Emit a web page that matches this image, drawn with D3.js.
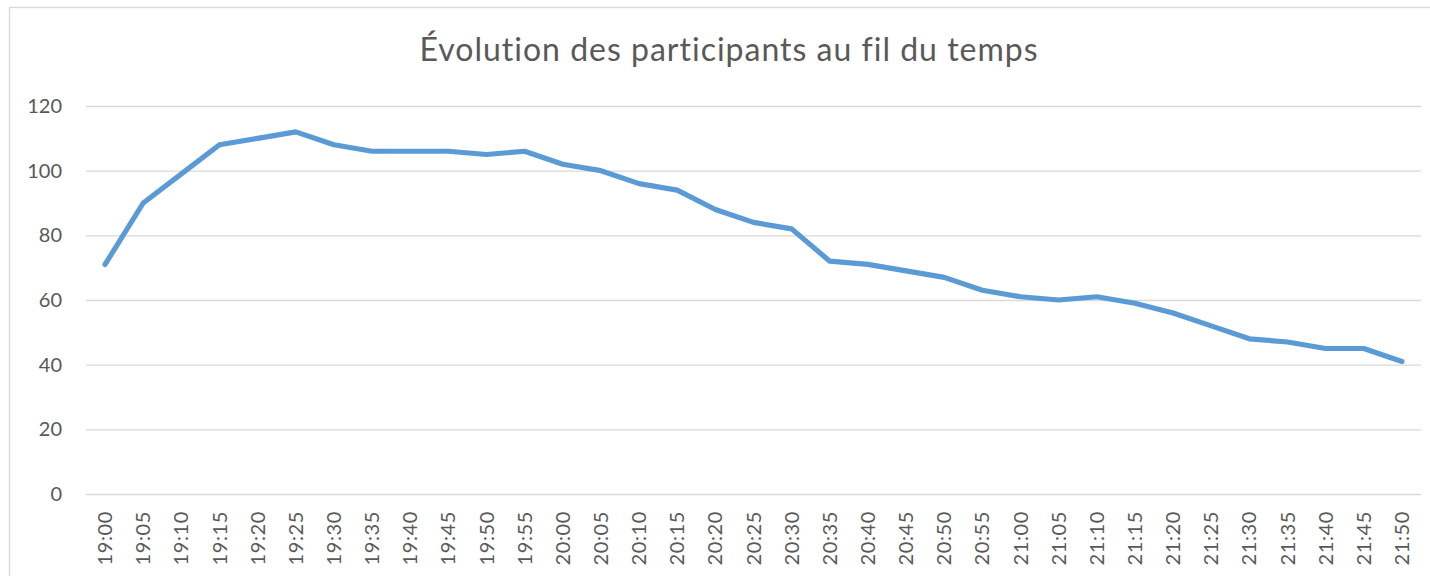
<!DOCTYPE html>
<html>
<head>
<meta charset="utf-8">
<script src="https://cdn.jsdelivr.net/npm/d3@7"></script>
<style>
  html, body { margin: 0; padding: 0; background: #ffffff; }
  svg { display: block; }
  text { font-family: Lato, "Open Sans", sans-serif; fill: #595959; }
</style>
</head>
<body>
<svg id="chart" width="1430" height="576"></svg>
<script>
// Participant counts sampled every five minutes
const times = [
  "19:00","19:05","19:10","19:15","19:20","19:25","19:30","19:35","19:40","19:45",
  "19:50","19:55","20:00","20:05","20:10","20:15","20:20","20:25","20:30","20:35",
  "20:40","20:45","20:50","20:55","21:00","21:05","21:10","21:15","21:20","21:25",
  "21:30","21:35","21:40","21:45","21:50"
];
const participants = [
  71, 90, 99, 108, 110, 112, 108, 106, 106, 106,
  105, 106, 102, 100, 96, 94, 88, 84, 82, 72,
  71, 69, 67, 63, 61, 60, 61, 59, 56, 52,
  48, 47, 45, 45, 41
];
const yTicks = [0, 20, 40, 60, 80, 100, 120];
const titleText = "Évolution des participants au fil du temps";

const svg = d3.select("#chart");
const W = 1430, H = 576;
const plot = { left: 86, right: 1421, top: 106, bottom: 494 };

// chart frame
svg.append("rect")
  .attr("x", 9.5).attr("y", 7.5)
  .attr("width", W + 20).attr("height", H + 20)
  .attr("fill", "#ffffff")
  .attr("stroke", "#d9d9d9").attr("stroke-width", 1.3);

const x = d3.scaleBand().domain(times).range([plot.left, plot.right]);
const xc = d => x(d) + x.bandwidth() / 2;
const y = d3.scaleLinear().domain([0, 120]).range([plot.bottom, plot.top]);

// horizontal gridlines + y labels
const yAxis = d3.axisLeft(y)
  .tickValues(yTicks)
  .tickSize(-(plot.right - plot.left))
  .tickPadding(24)
  .tickFormat(d3.format("d"));

const gy = svg.append("g")
  .attr("transform", `translate(${plot.left},0)`)
  .call(yAxis);
gy.select(".domain").remove();
gy.selectAll(".tick line").attr("stroke", "#d9d9d9").attr("stroke-width", 1.3);
gy.selectAll(".tick text")
  .style("font-size", "20px")
  .attr("fill", "#595959");

// category axis labels, rotated
const xAxis = d3.axisBottom(x).tickSize(0).tickPadding(0);
const gx = svg.append("g")
  .attr("transform", `translate(0,${plot.bottom})`)
  .call(xAxis);
gx.select(".domain").remove();
gx.selectAll(".tick text")
  .style("font-size", "20px")
  .style("letter-spacing", "0.6px")
  .attr("fill", "#595959")
  .attr("text-anchor", "end")
  .attr("dy", "0.35em")
  .attr("transform", "translate(0,17) rotate(-90)");

// series line
const line = d3.line()
  .x((d, i) => xc(times[i]))
  .y(d => y(d));

svg.append("path")
  .datum(participants)
  .attr("d", line)
  .attr("fill", "none")
  .attr("stroke", "#5b9bd5")
  .attr("stroke-width", 5.2)
  .attr("stroke-linejoin", "round")
  .attr("stroke-linecap", "round");

// title
svg.append("text")
  .attr("x", 729)
  .attr("y", 61)
  .attr("text-anchor", "middle")
  .style("font-size", "32px")
  .style("letter-spacing", "1px")
  .text(titleText);
</script>
</body>
</html>
